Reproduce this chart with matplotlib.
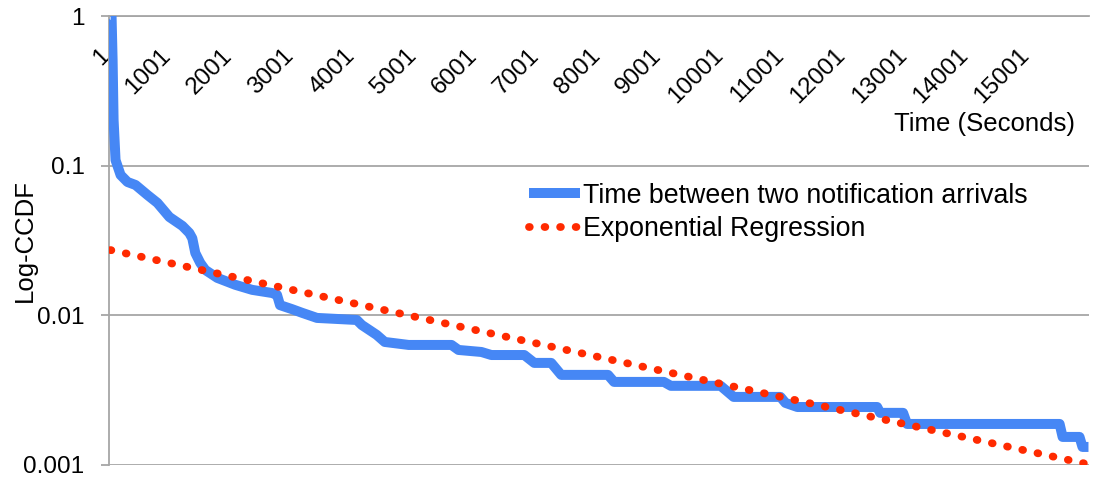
import matplotlib
matplotlib.use("Agg")
import matplotlib.pyplot as plt
from matplotlib.ticker import NullLocator, FixedLocator, FixedFormatter

plt.rcParams['font.family'] = ['Liberation Sans', 'DejaVu Sans']

# CCDF of time between two notification arrivals
ccdf_x = [1, 17, 34, 50, 66, 82, 164, 277, 408, 603, 765, 960, 1172, 1286,
          1334, 1383, 1464, 1546, 1741, 2034, 2310, 2635, 2716, 2765, 2960,
          3123, 3367, 4017, 4099, 4342, 4473, 4863, 5562, 5676, 6050, 6212,
          6749, 6912, 7188, 7351, 8115, 8213, 9026, 9140, 9952, 10164, 10928,
          11009, 11204, 12505, 12554, 12928, 12993, 15481, 15530, 15806,
          15854, 15952]
ccdf_y = [1.0, 1.0, 0.508, 0.202, 0.1485, 0.109, 0.0867, 0.0778, 0.0743,
          0.0637, 0.0564, 0.0454, 0.0396, 0.0355, 0.0327, 0.0261, 0.0224,
          0.0201, 0.0178, 0.0160, 0.0148, 0.0141, 0.0137, 0.0117, 0.0110,
          0.0104, 0.00961, 0.00931, 0.00862, 0.00740, 0.00664, 0.00634,
          0.00634, 0.00587, 0.00569, 0.00543, 0.00543, 0.00481, 0.00481,
          0.00400, 0.00400, 0.00359, 0.00359, 0.00338, 0.00338, 0.00285,
          0.00285, 0.00260, 0.00244, 0.00244, 0.00223, 0.00223, 0.00188,
          0.00188, 0.00154, 0.00154, 0.00132, 0.00132]

# exponential trendline end points (straight on a log axis)
trend_x = [1, 15952]
trend_y = [0.0273, 0.00101]

x_ticks = list(range(1, 15002, 1000))
x_tick_labels = [str(t) for t in x_ticks]
y_ticks = [1, 0.1, 0.01, 0.001]
y_tick_labels = ['1', '0.1', '0.01', '0.001']

blue = '#4687f5'
red = '#ff2a00'
grey = '#a6a6a6'

fig = plt.figure(figsize=(10.94, 4.87), dpi=100)
ax = fig.add_axes([0.0999, 0.0452, 0.8955, 0.9219])

ax.plot(ccdf_x, ccdf_y, color=blue, lw=7.2, solid_joinstyle='round',
        solid_capstyle='butt', label='Time between two notification arrivals',
        zorder=3)
ax.plot(trend_x, trend_y, color=red, lw=5.6, linestyle=(0, (0.1, 1.9)),
        dash_capstyle='round', label='Exponential Regression', zorder=4)

ax.set_yscale('log')
ax.set_ylim(0.001, 1)
ax.set_xlim(-20, 15960)
ax.yaxis.set_major_locator(FixedLocator(y_ticks))
ax.yaxis.set_major_formatter(FixedFormatter(y_tick_labels))
ax.yaxis.set_minor_locator(NullLocator())
ax.grid(axis='y', color=grey, lw=1.3)
ax.set_axisbelow(True)

for side in ['right', 'bottom']:
    ax.spines[side].set_visible(False)
for side in ['left', 'top']:
    ax.spines[side].set_color(grey)
    ax.spines[side].set_linewidth(1.3)

ax.tick_params(axis='y', direction='out', length=5.8, width=1.3, color=grey,
               pad=12, labelsize=17.5)

# category labels sit inside the plot, under the top axis line
ax.set_xticks(x_ticks, x_tick_labels)
ax.xaxis.set_minor_locator(NullLocator())
ax.tick_params(axis='x', bottom=False, labelbottom=False, top=True,
               labeltop=True, length=0, pad=-29, labelsize=17.5)
plt.setp(ax.get_xticklabels(), rotation=45, ha='right', va='baseline',
         rotation_mode='anchor', zorder=5)

ax.set_xlabel('Time (Seconds)', fontsize=18.5, ha='right', va='center')
ax.xaxis.set_label_coords(0.986, 0.759)
ax.set_ylabel('Log-CCDF', fontsize=18.5, va='center')
ax.yaxis.set_label_coords(-0.086, 0.5)

ax.legend(loc='upper left', bbox_to_anchor=(0.484, 0.625),
          bbox_transform=fig.transFigure, frameon=False, fontsize=19.3,
          handlelength=1.9, handletextpad=0.1, labelspacing=0.28,
          borderpad=0, borderaxespad=0)

fig.savefig('out.png', dpi=100)
